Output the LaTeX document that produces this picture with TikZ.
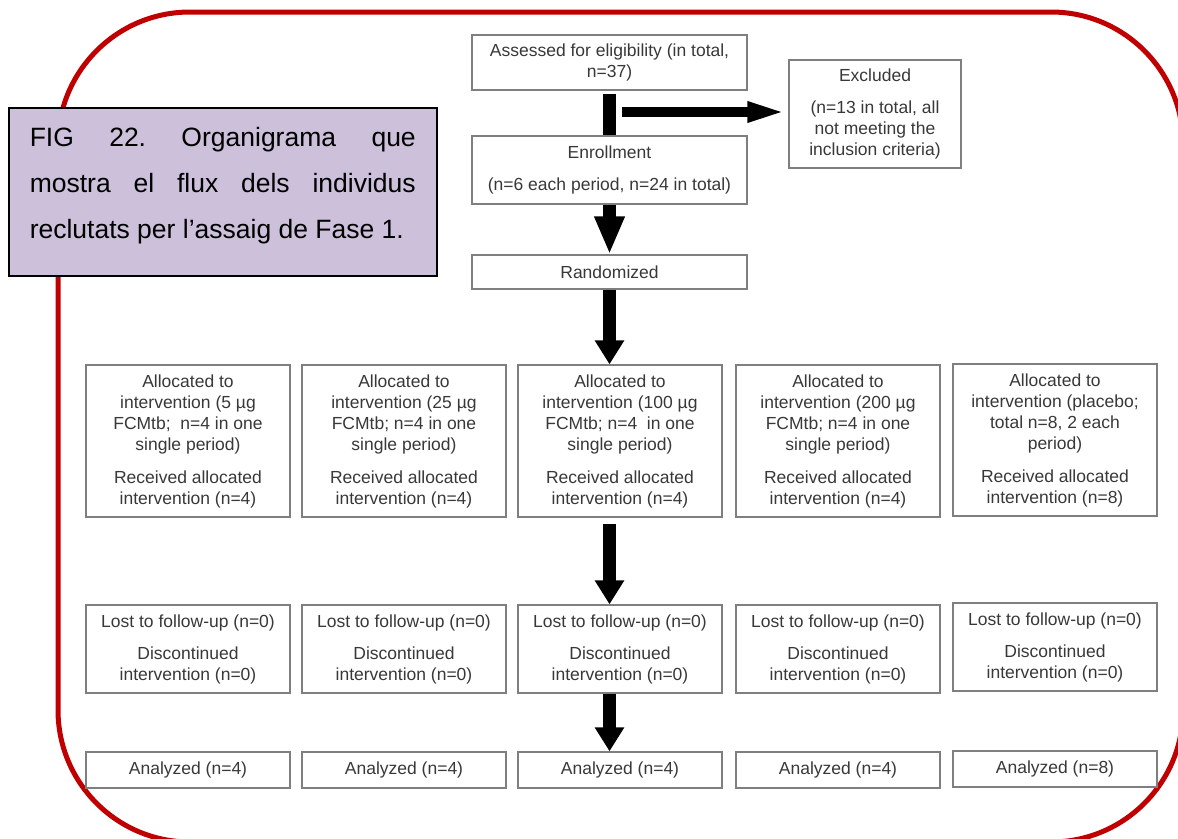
\documentclass[tikz,border=0pt]{standalone}
\usepackage{fontspec}
\setmainfont{Liberation Sans}
\usetikzlibrary{arrows.meta}
\definecolor{brdred}{HTML}{C00000}
\definecolor{capfill}{HTML}{CCC0DA}
\definecolor{boxline}{HTML}{7F7F7F}
\definecolor{boxtext}{HTML}{383838}
\newcommand{\boxfont}{\fontsize{17.5}{21}\selectfont}
\newcommand{\capfont}{\fontsize{26.5}{46}\selectfont\frenchspacing\tolerance=10000 }

\begin{document}
\begin{tikzpicture}[x=1pt,y=-1pt,
  bx/.style={rectangle,draw=boxline,line width=1.3pt,text=boxtext,align=center,inner sep=0pt,font=\boxfont},
  alloc/.style={bx,minimum width=204pt,minimum height=152pt},
  lost/.style={bx,minimum width=204pt,minimum height=88pt},
  anl/.style={bx,minimum width=204pt,minimum height=36pt},
  capbox/.style={rectangle,draw=black,line width=1.5pt,fill=capfill,text width=386pt,inner xsep=21pt,inner ysep=0pt,minimum height=168pt,align=justify,font=\capfont},
  ar/.style={line width=13pt,-{Triangle[length=24pt,width=28pt]}},
  sidear/.style={line width=10pt,-{Triangle[length=41pt,width=18pt]}}]
  \useasboundingbox (0,0) rectangle (1178,838);
  % red frame
  \draw[brdred,line width=5pt,rounded corners=132pt] (58,12) rectangle (1183,842);
  % top of the chart
  \node[bx,minimum width=275pt,minimum height=55pt] (assess) at (609.5,62.5) {Assessed for eligibility (in total,\\n=37)};
  \node[bx,minimum width=172pt,minimum height=108pt] (excl) at (875,114) {Excluded\\[11pt](n=13 in total, all\\not meeting the\\inclusion criteria)};
  \node[bx,minimum width=275pt,minimum height=68pt] (enrol) at (609.5,170) {Enrollment\\[11pt](n=6 each period, n=24 in total)};
  \node[bx,minimum width=275pt,minimum height=34pt] (rand) at (609.5,272) {Randomized};
  % allocation
  \node[alloc] (a1) at (188,441) {Allocated to\\intervention (5 µg\\FCMtb;\ \ n=4 in one\\single period)\\[12pt]Received allocated\\intervention (n=4)};
  \node[alloc] (a2) at (404,441) {Allocated to\\intervention (25 µg\\FCMtb; n=4 in one\\single period)\\[12pt]Received allocated\\intervention (n=4)};
  \node[alloc] (a3) at (620,441) {Allocated to\\intervention (100 µg\\FCMtb; n=4\ \ in one\\single period)\\[12pt]Received allocated\\intervention (n=4)};
  \node[alloc] (a4) at (838,441) {Allocated to\\intervention (200 µg\\FCMtb; n=4 in one\\single period)\\[12pt]Received allocated\\intervention (n=4)};
  \node[alloc] (a5) at (1055,440) {Allocated to\\intervention (placebo;\\total n=8, 2 each\\period)\\[12pt]Received allocated\\intervention (n=8)};
  % follow-up
  \node[lost] (l1) at (188,649) {Lost to follow-up (n=0)\\[11pt]Discontinued\\intervention (n=0)};
  \node[lost] (l2) at (404,649) {Lost to follow-up (n=0)\\[11pt]Discontinued\\intervention (n=0)};
  \node[lost] (l3) at (620,649) {Lost to follow-up (n=0)\\[11pt]Discontinued\\intervention (n=0)};
  \node[lost] (l4) at (838,649) {Lost to follow-up (n=0)\\[11pt]Discontinued\\intervention (n=0)};
  \node[lost] (l5) at (1055,647) {Lost to follow-up (n=0)\\[11pt]Discontinued\\intervention (n=0)};
  % analysis
  \node[anl] (n1) at (188,770) {Analyzed (n=4)};
  \node[anl] (n2) at (404,770) {Analyzed (n=4)};
  \node[anl] (n3) at (620,770) {Analyzed (n=4)};
  \node[anl] (n4) at (838,770) {Analyzed (n=4)};
  \node[anl] (n5) at (1055,769) {Analyzed (n=8)};
  % arrows
  \draw[line width=13pt,shorten <=3pt] (assess.south) -- (enrol.north);
  \coordinate (exst) at (622,112);
  \draw[sidear] (exst) -- (excl.west |- exst);
  \draw[ar,-{Triangle[length=38pt,width=28pt]}] (enrol.south) -- (rand.north);
  \draw[ar] (rand.south) -- (rand.south |- a3.north);
  \draw[ar,shorten <=6pt] (a3.south -| rand.south) -- (l3.north -| rand.south);
  \draw[ar] (l3.south -| rand.south) -- (n3.north -| rand.south);
  % caption
  \node[capbox,anchor=north west] (fig) at (8,107) {FIG 22. Organigrama que\linebreak mostra el flux dels individus\linebreak reclutats per l’assaig de Fase 1.\rule[-18pt]{0pt}{18pt}};
\end{tikzpicture}
\end{document}
